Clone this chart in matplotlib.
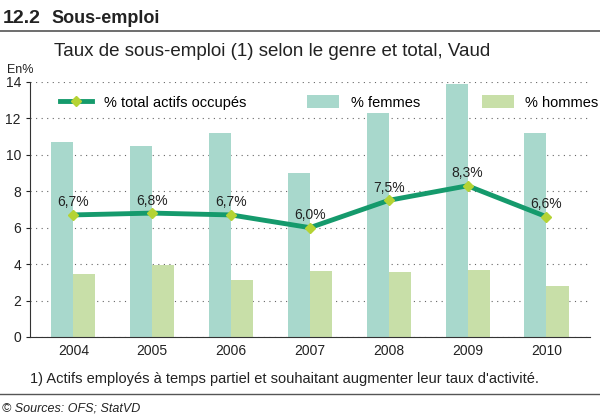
import numpy as np
import matplotlib.pyplot as plt

plt.rcParams['font.family'] = 'Liberation Sans'

years = ['2004', '2005', '2006', '2007', '2008', '2009', '2010']
total = [6.7, 6.8, 6.7, 6.0, 7.5, 8.3, 6.6]
femmes = [10.7, 10.5, 11.2, 9.0, 12.3, 13.9, 11.2]
hommes = [3.45, 3.95, 3.1, 3.6, 3.55, 3.7, 2.8]
total_labels = ['6,7%', '6,8%', '6,7%', '6,0%', '7,5%', '8,3%', '6,6%']

fig = plt.figure(figsize=(6, 4.16), dpi=100)
ax = fig.add_axes([0.05, 0.19, 0.933, 0.613])
x = np.arange(len(years))
w = 0.28
ax.bar(x - w / 2, femmes, w, color='#a8d8cc', label='% femmes', zorder=2)
ax.bar(x + w / 2, hommes, w, color='#c8dfa8', label='% hommes', zorder=2)
ax.plot(x, total, color='#159a6c', lw=3.5, marker='D', ms=5, mfc='#b5d334',
        mec='#b5d334', label='% total actifs occupés', zorder=3)
for xi, v, t in zip(x, total, total_labels):
    ax.text(xi, v + 0.3, t, ha='center', va='bottom', fontsize=10, color='#222')

ax.set_xlim(-0.55, len(years) - 0.45)
ax.set_ylim(0, 14)
ax.set_yticks(range(0, 15, 2))
ax.set_xticks(x)
ax.set_xticklabels(years)
ax.yaxis.grid(True, linestyle=(0, (1, 4)), color='#666', lw=0.8, zorder=0)
for s in ['top', 'right']:
    ax.spines[s].set_visible(False)
ax.spines['left'].set_color('#333')
ax.spines['bottom'].set_color('#333')
ax.tick_params(labelsize=10, colors='#222', length=3)
ax.tick_params(axis='x', length=0, pad=5)

h, l = ax.get_legend_handles_labels()
ax.legend(h, l, ncol=3, frameon=False,
          loc='upper left', bbox_to_anchor=(0.03, 1.0), fontsize=10.5,
          columnspacing=4.2, handlelength=2.2, handleheight=1.0)

fig.text(0.005, 0.945, '12.2', fontsize=14, fontweight='bold', color='#222')
fig.text(0.085, 0.945, 'Sous-emploi', fontsize=13, fontweight='bold', color='#222')
fig.add_artist(plt.Line2D([0, 1], [0.925, 0.925], color='#555', lw=1.2))
fig.text(0.09, 0.865, 'Taux de sous-emploi (1) selon le genre et total, Vaud',
         fontsize=13.5, color='#222')
fig.text(0.012, 0.825, 'En%', fontsize=9, color='#222')
fig.text(0.05, 0.08, "1) Actifs employés à temps partiel et souhaitant augmenter leur taux d'activité.",
         fontsize=10.5, color='#222')
fig.add_artist(plt.Line2D([0, 1], [0.053, 0.053], color='#555', lw=1))
fig.text(0.003, 0.012, '© Sources: OFS; StatVD', fontsize=9, style='italic', color='#222')

fig.savefig('out.png', dpi=100)
